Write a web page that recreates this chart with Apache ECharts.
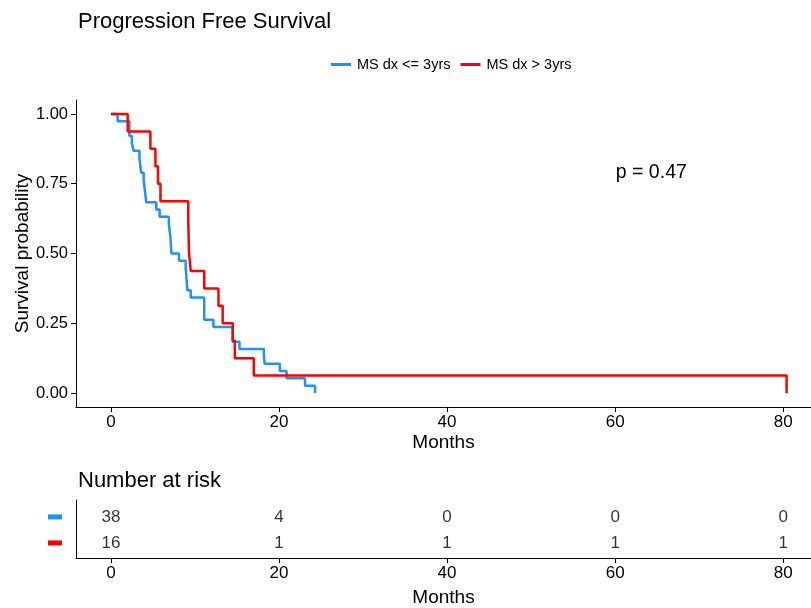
<!DOCTYPE html>
<html>
<head>
<meta charset="utf-8">
<script src="https://cdn.jsdelivr.net/npm/echarts@6/dist/echarts.min.js"></script>
<style>
html, body { margin: 0; padding: 0; background: #fff; }
#main { width: 811px; height: 608px; }
</style>
</head>
<body>
<div id="main"></div>
<script>
// km steps (months, survival after the event)
var blueTimes = [0, 0.8, 2.2, 2.5, 2.7, 3.4, 3.5, 3.6, 3.9, 4.0, 4.1, 4.2, 5.4, 5.8, 6.9, 7.0, 7.1, 7.15, 7.2, 8.1, 8.9, 9.1, 9.5, 11.1, 12.2, 14.5, 15.3, 18.2, 18.3, 20.1, 20.9, 23.1, 24.3];
var blueSurv  = [1, 0.974, 0.921, 0.895, 0.868, 0.842, 0.816, 0.789, 0.763, 0.737, 0.711, 0.684, 0.658, 0.632, 0.605, 0.579, 0.553, 0.526, 0.5, 0.474, 0.447, 0.368, 0.342, 0.263, 0.237, 0.184, 0.158, 0.132, 0.105, 0.079, 0.053, 0.026, 0];
var redTimes = [0, 2.0, 4.7, 5.3, 5.6, 5.9, 9.2, 9.25, 9.3, 9.5, 11.1, 12.8, 13.3, 14.5, 14.75, 17.0, 80.4];
var redSurv  = [1, 0.9375, 0.875, 0.8125, 0.75, 0.6875, 0.625, 0.5625, 0.5, 0.4375, 0.375, 0.3125, 0.25, 0.1875, 0.125, 0.0625, 0];

var riskTimes = [0, 20, 40, 60, 80];
var riskBlue = [38, 4, 0, 0, 0];
var riskRed = [16, 1, 1, 1, 1];

var xTicks = [0, 20, 40, 60, 80];
var yTicks = [0, 0.25, 0.5, 0.75, 1];
var groupNames = ['MS dx <= 3yrs', 'MS dx > 3yrs'];
var pLabel = 'p = 0.47';

var BLUE = '#1E90FF', RED = '#FF0000';
var FONT = 'Liberation Sans, Arial, sans-serif';

function pairs(xs, ys) {
    var out = [];
    for (var i = 0; i < xs.length; i++) out.push([xs[i], ys[i]]);
    return out;
}
function riskRow(row, counts) {
    var out = [];
    for (var i = 0; i < riskTimes.length; i++) out.push([riskTimes[i], row, counts[i]]);
    return out;
}

var axisLine = { show: true, onZero: false, lineStyle: { color: '#000', width: 1 } };
var axisTick = { show: true, length: 5, lineStyle: { color: '#000', width: 1 } };

var myChart = echarts.init(document.getElementById('main'));

var option = {
    animation: false,
    textStyle: { fontFamily: FONT },
    title: [
        { text: 'Progression Free Survival', left: 73, top: 6,
          textStyle: { fontSize: 22, fontWeight: 'normal', color: '#000', fontFamily: FONT } },
        { text: 'Number at risk', left: 73, top: 465,
          textStyle: { fontSize: 22, fontWeight: 'normal', color: '#000', fontFamily: FONT } }
    ],
    legend: {
        data: groupNames, left: 326, top: 52,
        icon: 'rect', itemWidth: 20, itemHeight: 3, itemGap: 10,
        textStyle: { fontSize: 14.5, color: '#000', fontFamily: FONT, padding: [0, 0, 0, 1] }
    },
    grid: [
        { left: 76, right: 0, top: 100, bottom: 201, outerBoundsMode: 'none' },
        { left: 76, right: 0, top: 500, bottom: 50, outerBoundsMode: 'none' }
    ],
    xAxis: [
        { type: 'value', gridIndex: 0, min: -4.15, max: 83.3,
          name: 'Months', nameLocation: 'middle', nameGap: 26, nameMoveOverlap: false,
          nameTextStyle: { fontSize: 19, color: '#000', fontFamily: FONT },
          axisLine: axisLine, axisTick: Object.assign({ customValues: xTicks }, axisTick),
          axisLabel: { customValues: xTicks, fontSize: 17, color: '#000', margin: 7, fontFamily: FONT },
          splitLine: { show: false } },
        { type: 'value', gridIndex: 1, min: -4.15, max: 83.3,
          name: 'Months', nameLocation: 'middle', nameGap: 30, nameMoveOverlap: false,
          nameTextStyle: { fontSize: 19, color: '#000', fontFamily: FONT },
          axisLine: axisLine, axisTick: Object.assign({ customValues: xTicks }, axisTick),
          axisLabel: { customValues: xTicks, fontSize: 17, color: '#000', margin: 7, fontFamily: FONT },
          splitLine: { show: false } }
    ],
    yAxis: [
        { type: 'value', gridIndex: 0, min: -0.05, max: 1.05,
          name: 'Survival probability', nameLocation: 'middle', nameGap: 44, nameMoveOverlap: false,
          nameTextStyle: { fontSize: 19, color: '#000', fontFamily: FONT },
          axisLine: axisLine, axisTick: Object.assign({ customValues: yTicks }, axisTick),
          axisLabel: { customValues: yTicks, fontSize: 16.5, color: '#000', margin: 8, fontFamily: FONT,
                       formatter: function (v) { return v.toFixed(2); } },
          splitLine: { show: false } },
        { type: 'value', gridIndex: 1, min: 0.42, max: 2.65,
          axisLine: axisLine, axisTick: { show: false },
          axisLabel: { customValues: [1, 2], margin: 14,
                       formatter: function (v) { return v === 2 ? '{b| }' : '{r| }'; },
                       rich: { b: { backgroundColor: BLUE, width: 14, height: 5 },
                               r: { backgroundColor: RED, width: 14, height: 5 } } },
          splitLine: { show: false } }
    ],
    series: [
        { name: groupNames[0], type: 'line', step: 'end', showSymbol: false,
          xAxisIndex: 0, yAxisIndex: 0, color: BLUE,
          lineStyle: { width: 2.5, color: BLUE }, data: pairs(blueTimes, blueSurv) },
        { name: groupNames[1], type: 'line', step: 'end', showSymbol: false,
          xAxisIndex: 0, yAxisIndex: 0, color: RED,
          lineStyle: { width: 2.5, color: RED }, data: pairs(redTimes, redSurv) },
        { type: 'scatter', xAxisIndex: 1, yAxisIndex: 1, symbolSize: 1, silent: true,
          itemStyle: { color: 'rgba(0,0,0,0)' },
          label: { show: true, position: 'inside', fontSize: 17, color: '#000', fontFamily: FONT,
                   formatter: function (p) { return p.value[2]; } },
          data: riskRow(2, riskBlue).concat(riskRow(1, riskRed)) }
    ]
};
myChart.setOption(option);

// p value text, placed through the axis scales
var pPos = myChart.convertToPixel({ gridIndex: 0 }, [64.3, 0.79]);
myChart.setOption({
    graphic: [{ type: 'text', x: pPos[0], y: pPos[1],
        style: { text: pLabel, fontSize: 19.5, fill: '#000', fontFamily: FONT,
                 align: 'center', verticalAlign: 'middle' } }]
});
</script>
</body>
</html>
